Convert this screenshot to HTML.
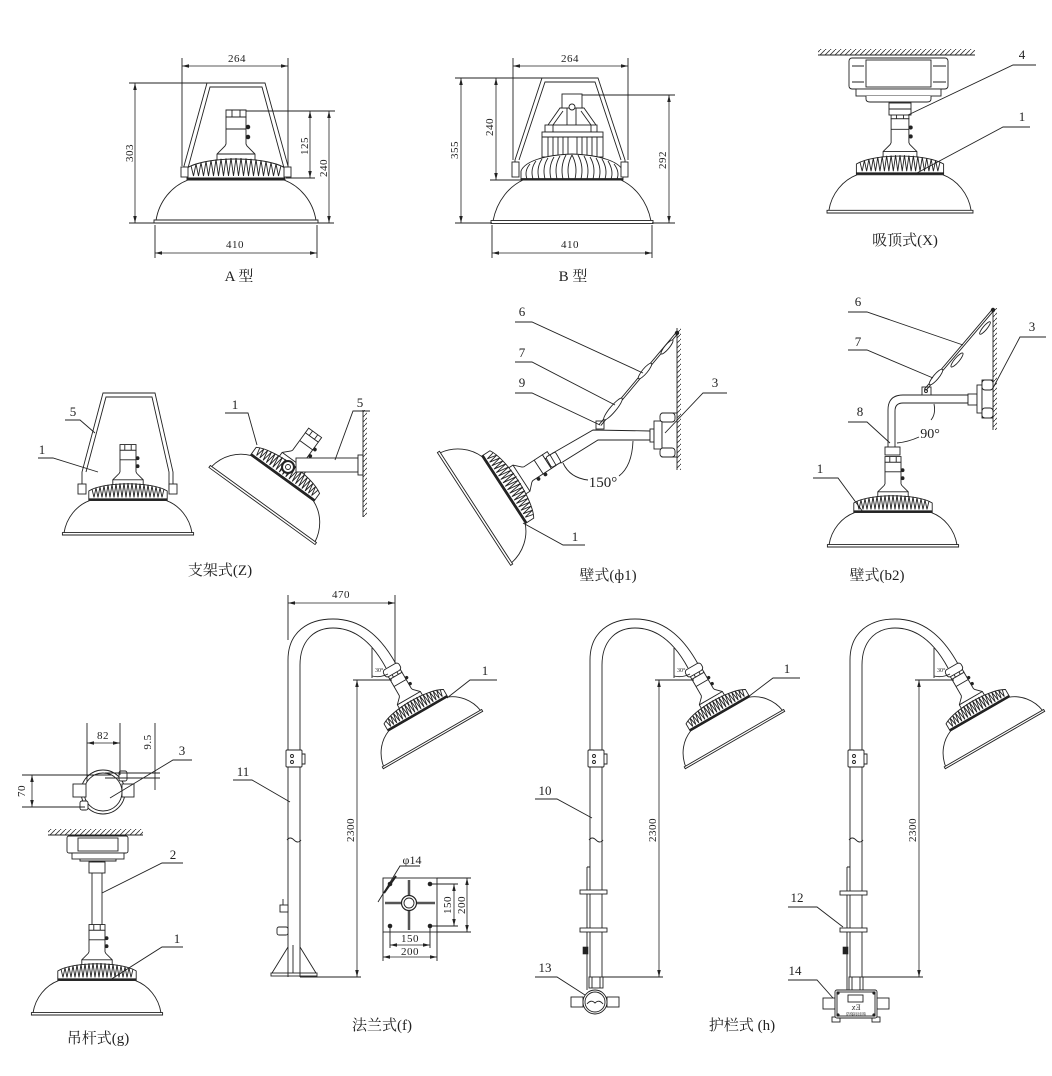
<!DOCTYPE html>
<html><head><meta charset="utf-8"><title>安装方式</title>
<style>
html,body{margin:0;padding:0;background:#fff;width:1052px;height:1076px;overflow:hidden}
svg{display:block}
.s{fill:none;stroke:#222;stroke-width:.9}
.w{fill:#fff;stroke:#222;stroke-width:.9}
.k{fill:#222;stroke:#222;stroke-width:.6}
#lamp *{vector-effect:non-scaling-stroke}
text{font-family:"Liberation Serif","Noto Serif CJK SC",serif;fill:#222}
.d{font-size:11px;letter-spacing:.5px}
.n{font-size:13px}
.c{font-size:15px}
.dm{fill:none;stroke:#222;stroke-width:.8;marker-start:url(#ar);marker-end:url(#ar)}
</style></head><body>
<svg width="1052" height="1076" viewBox="0 0 1052 1076" xmlns="http://www.w3.org/2000/svg">
<defs>
<marker id="ar" viewBox="0 0 10 10" refX="10" refY="5" markerWidth="7" markerHeight="7" orient="auto-start-reverse" markerUnits="userSpaceOnUse"><path d="M0 2.5 L10 5 L0 7.5 Z" fill="#222"/></marker>
<pattern id="hat" width="5" height="5" patternUnits="userSpaceOnUse"><path d="M-1 6 L6 -1" stroke="#333" stroke-width=".8"/></pattern>
<g id="lamp" stroke="#222" stroke-width=".9" fill="#fff">
 <path d="M-19 -62 L-19 -69 L-11 -77 L-10 -79 L-10 -106 L10 -106 L10 -79 L11 -77 L19 -69 L19 -62 Z"/>
 <line x1="-19" y1="-69" x2="19" y2="-69"/>
 <line x1="-10" y1="-94" x2="10" y2="-94"/>
 <rect x="-10" y="-113" width="20" height="7"/>
 <path d="M-4 -113 V-106 M4 -113 V-106" fill="none"/>
 <circle cx="12" cy="-96" r="1.8" fill="#222"/>
 <circle cx="12" cy="-86" r="1.8" fill="#222"/>
 <path d="M-80 -2.5 C-77 -22 -64 -37 -48 -43 L48 -43 C64 -37 77 -22 80 -2.5 Z"/>
 <rect x="-82" y="-3" width="164" height="3"/>
 <path d="M-49 -43 L-49 -55 C-30 -67 30 -67 49 -55 L49 -43 Z"/>
 <polyline fill="none" points="-45,-57.4 -42.5,-47 -40,-59 -37.5,-47 -35,-60.4 -32.5,-47 -30,-61.6 -27.5,-47 -25,-62.7 -22.5,-47 -20,-63.5 -17.5,-47 -15,-64.2 -12.5,-47 -10,-64.6 -7.5,-47 -5,-64.9 -2.5,-47 0,-65 2.5,-47 5,-64.9 7.5,-47 10,-64.6 12.5,-47 15,-64.2 17.5,-47 20,-63.5 22.5,-47 25,-62.7 27.5,-47 30,-61.6 32.5,-47 35,-60.4 37.5,-47 40,-59 42.5,-47 45,-57.4"/>
 <line x1="-49" y1="-44.5" x2="49" y2="-44.5" stroke-width="2"/>
</g>
<g id="goose">
 <path class="s" d="M288 977 L288 660 C288 632 308 619 333 619 C360 619 380 635 396 664"/>
 <path class="s" d="M300 977 L300 665 C300 641 314 628 333 628 C354 628 372 642 386 668"/>
 <rect class="w" x="286" y="750" width="16" height="17" rx="1"/>
 <circle class="s" cx="292" cy="756" r="1.5"/><circle class="s" cx="292" cy="762" r="1.5"/>
 <path class="s" d="M302 754 h3 v10 h-3"/>
 <path class="s" d="M287 840 q3 -4 7 0 t7 0"/>
 <use href="#lamp" transform="translate(433 740) rotate(-30) scale(0.7)"/>
 <g transform="translate(392 670) rotate(-30)"><rect class="w" x="-9" y="-4" width="18" height="8" rx="3"/></g>
 <path class="s" d="M372 648 L372 678 M372 676 Q380 678 388 674"/>
 <text x="375" y="672" font-size="6">30°</text>
 <line class="dm" x1="357" y1="680" x2="357" y2="977"/>
 <path class="s" d="M353 680 H392 M300 977 H361"/>
 <text class="d" transform="translate(350 830) rotate(-90)" text-anchor="middle" y="4">2300</text>
</g>
</defs>

<!-- ============ A 型 ============ -->
<use href="#lamp" transform="translate(236 223)"/>
<path class="s" d="M184 177 V166 L207 83 H265 L288 166 V177"/>
<path class="s" d="M188 168 L210 87 H262 L284 168"/>
<rect class="w" x="181" y="167" width="7" height="10"/>
<rect class="w" x="284" y="167" width="7" height="10"/>
<line class="dm" x1="182" y1="66" x2="288" y2="66"/>
<path class="s" d="M182 58 V166 M288 58 V166"/>
<text class="d" x="237" y="62" text-anchor="middle">264</text>
<line class="dm" x1="135" y1="83" x2="135" y2="223"/>
<path class="s" d="M129 83 H207 M129 223 H155"/>
<text class="d" transform="translate(129 153) rotate(-90)" text-anchor="middle" y="4">303</text>
<line class="dm" x1="310" y1="111" x2="310" y2="178"/>
<line class="dm" x1="329" y1="111" x2="329" y2="223"/>
<path class="s" d="M246 111 H335 M286 178 H315 M318 223 H334"/>
<text class="d" transform="translate(304 146) rotate(-90)" text-anchor="middle" y="4">125</text>
<text class="d" transform="translate(323 168) rotate(-90)" text-anchor="middle" y="4">240</text>
<line class="dm" x1="155" y1="253" x2="317" y2="253"/>
<path class="s" d="M155 225 V258 M317 225 V258"/>
<text class="d" x="235" y="248" text-anchor="middle">410</text>
<text class="c" x="239" y="281" text-anchor="middle">A 型</text>

<!-- ============ B 型 ============ -->
<path class="w" d="M493 221 C497 200 510 186 523 180 L621 180 C634 186 647 200 651 221 Z"/>
<rect class="w" x="491" y="220.5" width="162" height="3"/>
<rect class="w" x="567" y="100" width="9" height="32"/>
<path class="s" d="M548 125 L560 108 H584 L596 125 M553 125 L563 111 M591 125 L581 111"/>
<rect class="w" x="562" y="94" width="20" height="14"/>
<circle class="w" cx="572" cy="107" r="3"/>
<rect class="w" x="545" y="125" width="52" height="7"/>
<rect class="w" x="542" y="132" width="61" height="25"/>
<path class="s" d="M542 137 H603 M548 137 V157 M553 137 V157 M558 137 V157 M563 137 V157 M568 137 V157 M577 137 V157 M582 137 V157 M587 137 V157 M592 137 V157 M597 137 V157 M553 125 V132 M591 125 V132"/>
<path class="w" d="M521 180 L521 171 C525 161 545 155 572 154 C599 155 619 161 623 171 L623 180 Z"/>
<path class="s" d="M527 179 Q524 171 530 164 M533 179 Q530 169 536 161 M539 179 Q536 168 542 159 M545 179 Q542 167 548 158 M551 179 Q548 167 554 157 M557 179 Q554 166 560 156 M563 179 Q560 166 566 155 M569 179 Q566 166 572 155 M575 179 Q578 166 572 155 M581 179 Q584 166 578 155 M587 179 Q590 167 584 156 M593 179 Q596 167 590 157 M599 179 Q602 168 596 158 M605 179 Q608 169 602 159 M611 179 Q614 171 608 161 M617 179 Q620 172 614 164"/>
<line x1="521" y1="179" x2="623" y2="179" stroke="#222" stroke-width="1.8"/>
<path class="s" d="M515 172 V160 L542 78 H598 L625 160 V172"/>
<path class="s" d="M519 160 L545 82 H595 L621 160"/>
<rect class="w" x="512" y="162" width="7" height="15"/>
<rect class="w" x="621" y="162" width="7" height="15"/>
<line class="dm" x1="513" y1="66" x2="628" y2="66"/>
<path class="s" d="M513 58 V160 M628 58 V160"/>
<text class="d" x="570" y="62" text-anchor="middle">264</text>
<line class="dm" x1="461" y1="78" x2="461" y2="223"/>
<path class="s" d="M455 78 H542 M455 223 H492 M490 180 H522 M582 95 H675 M652 223 H675"/>
<text class="d" transform="translate(454 150) rotate(-90)" text-anchor="middle" y="4">355</text>
<line class="dm" x1="496" y1="78" x2="496" y2="180"/>
<text class="d" transform="translate(489 127) rotate(-90)" text-anchor="middle" y="4">240</text>
<line class="dm" x1="669" y1="95" x2="669" y2="223"/>
<text class="d" transform="translate(662 160) rotate(-90)" text-anchor="middle" y="4">292</text>
<line class="dm" x1="492" y1="253" x2="652" y2="253"/>
<path class="s" d="M492 225 V258 M652 225 V258"/>
<text class="d" x="570" y="248" text-anchor="middle">410</text>
<text class="c" x="573" y="281" text-anchor="middle">B 型</text>

<!-- ============ 吸顶式(X) ============ -->
<rect x="818" y="49" width="157" height="6" fill="url(#hat)"/>
<line class="s" x1="818" y1="55" x2="975" y2="55"/>
<rect class="w" x="849" y="58" width="99" height="31" rx="3"/>
<rect class="s" x="866" y="60" width="65" height="27"/>
<path class="s" d="M852 66 H864 M852 82 H864 M933 66 H946 M933 82 H946"/>
<rect class="w" x="856" y="89" width="85" height="7"/>
<path class="w" d="M866 96 L866 99 Q866 102 870 102 L927 102 Q931 102 931 99 L931 96"/>
<use href="#lamp" transform="translate(900 213) scale(0.89)"/>
<rect class="w" x="889" y="103" width="22" height="12"/>
<line class="s" x1="889" y1="109" x2="911" y2="109"/>
<path class="s" d="M908 115 L1013 65 H1036"/>
<text class="n" x="1022" y="59" text-anchor="middle">4</text>
<path class="s" d="M917 173 L1003 127 H1030"/>
<text class="n" x="1022" y="121" text-anchor="middle">1</text>
<text class="c" x="905" y="245" text-anchor="middle">吸顶式(X)</text>

<!-- ============ 支架式(Z) left ============ -->
<use href="#lamp" transform="translate(128 535) scale(0.8)"/>
<path class="s" d="M82 490 V472 L103 393 H155 L173 472 V490"/>
<path class="s" d="M86 472 L106 397 H152 L169 472 V490"/>
<rect class="w" x="78" y="484" width="8" height="10"/>
<rect class="w" x="169" y="484" width="8" height="10"/>
<path class="s" d="M65 420 H80 L95 433"/>
<text class="n" x="73" y="416" text-anchor="middle" font-size="11">5</text>
<path class="s" d="M38 458 H53 L98 472"/>
<text class="n" x="42" y="454" text-anchor="middle" font-size="11">1</text>

<!-- 支架式 right -->
<use href="#lamp" transform="translate(262 506) rotate(36) scale(0.8)"/>
<rect class="w" x="296" y="458" width="62" height="14"/>
<rect class="w" x="358" y="455" width="5" height="20"/>
<circle cx="288" cy="467" r="6" fill="#fff" stroke="#222" stroke-width="2"/>
<circle cx="288" cy="467" r="2.5" class="s"/>
<rect x="363" y="410" width="4" height="107" fill="url(#hat)"/>
<line class="s" x1="363" y1="410" x2="363" y2="517"/>
<path class="s" d="M370 411 H353 L335 460"/>
<text class="n" x="360" y="407" text-anchor="middle" font-size="11">5</text>
<path class="s" d="M225 413 H248 L257 445"/>
<text class="n" x="235" y="409" text-anchor="middle" font-size="11">1</text>
<text class="c" x="220" y="575" text-anchor="middle">支架式(Z)</text>

<!-- ============ 壁式(ф1) ============ -->
<rect x="677" y="328" width="4" height="142" fill="url(#hat)"/>
<line class="s" x1="677" y1="328" x2="677" y2="470"/>
<use href="#lamp" transform="translate(474 509) rotate(57) scale(0.82)"/>
<path class="w" d="M553 453 L593 430 L650 431 L650 440 L598 440 L561 463 Z"/>
<g transform="translate(553 460) rotate(-30)"><rect class="w" x="-5" y="-6" width="11" height="12" rx="2"/><line class="s" x1="0" y1="-6" x2="0" y2="6"/></g>
<rect class="w" x="596" y="421" width="8" height="8"/>
<rect class="w" x="650" y="429" width="4" height="13"/>
<rect class="w" x="654" y="421" width="8" height="28"/>
<rect class="w" x="662" y="413" width="15" height="44"/>
<rect class="w" x="660" y="413" width="15" height="9" rx="3"/>
<rect class="w" x="660" y="448" width="15" height="9" rx="3"/>
<path class="s" d="M600.8 425.6 L677.8 333.6 M599.2 424.4 L676.2 332.4"/>
<ellipse class="w" cx="613" cy="409" rx="14" ry="3" transform="rotate(-50 613 409)"/>
<ellipse class="w" cx="645" cy="371" rx="10" ry="2.5" transform="rotate(-50 645 371)"/>
<ellipse class="w" cx="667" cy="347" rx="9" ry="2.2" transform="rotate(-50 667 347)"/>
<circle cx="677" cy="333" r="2.2" fill="#222"/>
<path class="s" d="M515 322 H532 L643 373"/>
<text class="n" x="522" y="316" text-anchor="middle">6</text>
<path class="s" d="M515 362 H532 L615 405"/>
<text class="n" x="522" y="357" text-anchor="middle">7</text>
<path class="s" d="M515 393 H532 L600 425"/>
<text class="n" x="522" y="387" text-anchor="middle">9</text>
<path class="s" d="M727 393 H703 L665 433"/>
<text class="n" x="715" y="387" text-anchor="middle">3</text>
<path class="s" d="M563 463 Q570 478 588 480 M619 476 Q632 466 633 441"/>
<text x="603" y="487" text-anchor="middle" font-size="15">150°</text>
<path class="s" d="M585 545 H563 L523 523"/>
<text class="n" x="575" y="541" text-anchor="middle">1</text>
<text class="c" x="608" y="580" text-anchor="middle">壁式(ф1)</text>

<!-- ============ 壁式(b2) ============ -->
<rect x="993" y="308" width="4" height="122" fill="url(#hat)"/>
<line class="s" x1="993" y1="308" x2="993" y2="430"/>
<use href="#lamp" transform="translate(893 547) scale(0.8)"/>
<path class="w" d="M888 450 L888 410 Q888 395 903 395 L968 395 L968 403 L903 403 Q895 403 895 411 L895 450 Z"/>
<rect class="w" x="885" y="447" width="15" height="8"/>
<rect class="w" x="922" y="387" width="9" height="8"/>
<circle class="s" cx="926" cy="391" r="1.5"/>
<rect class="w" x="968" y="394" width="9" height="11"/>
<rect class="w" x="977" y="385" width="5" height="28"/>
<rect class="w" x="982" y="380" width="11" height="38"/>
<rect class="w" x="982" y="380" width="11" height="10" rx="3"/>
<rect class="w" x="982" y="408" width="11" height="10" rx="3"/>
<path class="s" d="M925.8 390.6 L993.8 310.6 M924.2 389.4 L992.2 309.4"/>
<ellipse class="w" cx="936" cy="377" rx="10" ry="2.6" transform="rotate(-50 936 377)"/>
<ellipse class="w" cx="957" cy="360" rx="9" ry="2.3" transform="rotate(-50 957 360)"/>
<ellipse class="w" cx="985" cy="328" rx="8" ry="2" transform="rotate(-50 985 328)"/>
<circle cx="993" cy="310" r="2.2" fill="#222"/>
<path class="s" d="M848 312 H867 L963 345"/>
<text class="n" x="858" y="306" text-anchor="middle">6</text>
<path class="s" d="M848 350 H867 L933 378"/>
<text class="n" x="858" y="346" text-anchor="middle">7</text>
<path class="s" d="M1046 337 H1020 L993 388"/>
<text class="n" x="1032" y="331" text-anchor="middle">3</text>
<path class="s" d="M848 422 H867 L890 443"/>
<text class="n" x="860" y="416" text-anchor="middle">8</text>
<path class="s" d="M934 404 Q936 414 931 420 M919 437 Q908 442 897 443"/>
<text x="930" y="438" text-anchor="middle" font-size="14">90°</text>
<path class="s" d="M813 478 H838 L863 512"/>
<text class="n" x="820" y="473" text-anchor="middle">1</text>
<text class="c" x="877" y="580" text-anchor="middle">壁式(b2)</text>

<!-- ============ 吊杆式(g) ============ -->
<circle class="s" cx="103" cy="792" r="22"/>
<circle class="s" cx="103" cy="792" r="19"/>
<rect class="w" x="73" y="784" width="13" height="13"/>
<rect class="w" x="122" y="784" width="12" height="13"/>
<rect class="w" x="119" y="771" width="8" height="10" rx="2"/>
<rect class="w" x="80" y="801" width="8" height="9" rx="2"/>
<line class="dm" x1="87" y1="743" x2="120" y2="743"/>
<path class="s" d="M87 723 V782 M120 723 V775"/>
<text class="d" x="103" y="739" text-anchor="middle" font-size="13">82</text>
<line class="s" x1="155" y1="723" x2="155" y2="790"/>
<path class="s" d="M105 773 H160 M105 778 H160"/>
<text class="d" transform="translate(147 742) rotate(-90)" text-anchor="middle" y="4" font-size="13">9.5</text>
<line class="dm" x1="32" y1="775" x2="32" y2="807"/>
<path class="s" d="M22 775 H112 M22 807 H85"/>
<text class="d" transform="translate(21 791) rotate(-90)" text-anchor="middle" y="4" font-size="13">70</text>
<path class="s" d="M192 760 H173 L110 798"/>
<text class="n" x="182" y="755" text-anchor="middle">3</text>
<rect x="48" y="829" width="95" height="6" fill="url(#hat)"/>
<line class="s" x1="48" y1="835" x2="143" y2="835"/>
<rect class="w" x="67" y="836" width="61" height="17" rx="2"/>
<rect class="s" x="78" y="838" width="40" height="13"/>
<rect class="w" x="72" y="853" width="52" height="6"/>
<path class="s" d="M80 859 V861 H116 V859"/>
<rect class="w" x="92" y="862" width="10" height="65"/>
<rect class="w" x="89" y="862" width="16" height="11"/>
<use href="#lamp" transform="translate(97 1015) scale(0.8)"/>
<path class="s" d="M183 863 H162 L102 893"/>
<text class="n" x="173" y="859" text-anchor="middle">2</text>
<path class="s" d="M183 947 H162 L110 980"/>
<text class="n" x="177" y="943" text-anchor="middle">1</text>
<text class="c" x="98" y="1043" text-anchor="middle">吊杆式(g)</text>

<!-- ============ 法兰式(f) ============ -->
<use href="#goose"/>
<line class="dm" x1="288" y1="603" x2="395" y2="603"/>
<path class="s" d="M288 595 V640 M395 595 V663"/>
<text class="d" x="341" y="598" text-anchor="middle">470</text>
<path class="s" d="M288 947 L272 973 M300 947 L316 973 M293 945 V973"/>
<rect class="s" x="271" y="973" width="46" height="3"/>
<rect class="w" x="280" y="905" width="8" height="7"/>
<line class="s" x1="283" y1="899" x2="283" y2="905"/>
<rect class="w" x="277" y="927" width="11" height="8" rx="2"/>
<path class="s" d="M233 780 H252 L290 802"/>
<text class="n" x="243" y="776" text-anchor="middle">11</text>
<path class="s" d="M497 680 H470 L447 698"/>
<text class="n" x="485" y="675" text-anchor="middle">1</text>
<!-- flange -->
<rect class="s" x="383" y="878" width="54" height="54"/>
<path d="M409 880 V930 M385 903 H435" stroke="#555" stroke-width="2.5" fill="none"/>
<circle cx="409" cy="903" r="7.5" fill="#fff" stroke="#222" stroke-width="1.2"/>
<circle class="s" cx="409" cy="903" r="5"/>
<circle class="k" cx="390" cy="884" r="2"/><circle class="k" cx="430" cy="884" r="2"/>
<circle class="k" cx="390" cy="926" r="2"/><circle class="k" cx="430" cy="926" r="2"/>
<path class="s" d="M420 866 H400 L378 902"/>
<line x1="384" y1="893" x2="396" y2="876" stroke="#222" stroke-width="2"/>
<text x="412" y="864" text-anchor="middle" font-size="12">φ14</text>
<line class="dm" x1="454" y1="884" x2="454" y2="926"/>
<line class="dm" x1="467" y1="878" x2="467" y2="932"/>
<path class="s" d="M430 884 H458 M430 926 H458 M437 878 H471 M437 932 H471"/>
<text class="d" transform="translate(447 905) rotate(-90)" text-anchor="middle" y="4">150</text>
<text class="d" transform="translate(461 905) rotate(-90)" text-anchor="middle" y="4">200</text>
<line class="dm" x1="390" y1="945" x2="430" y2="945"/>
<line class="dm" x1="383" y1="957" x2="437" y2="957"/>
<path class="s" d="M390 926 V948 M430 926 V948 M383 932 V961 M437 932 V961"/>
<text class="d" x="410" y="942" text-anchor="middle">150</text>
<text class="d" x="410" y="955" text-anchor="middle">200</text>
<text class="c" x="382" y="1030" text-anchor="middle">法兰式(f)</text>

<!-- ============ 护栏式 middle ============ -->
<use href="#goose" transform="translate(302 0)"/>
<path class="s" d="M800 678 H773 L748 697"/>
<text class="n" x="787" y="673" text-anchor="middle">1</text>
<path class="s" d="M587 867 V990 M587 867 H590"/>
<rect class="w" x="580" y="890" width="27" height="4"/>
<rect class="w" x="580" y="928" width="27" height="4"/>
<rect class="k" x="583" y="947" width="5" height="7"/>
<rect class="w" x="589" y="977" width="14" height="11"/>
<path class="s" d="M592 977 V988 M600 977 V988"/>
<rect class="w" x="571" y="997" width="12" height="10"/>
<rect class="w" x="607" y="997" width="12" height="10"/>
<circle class="w" cx="595" cy="1002" r="12"/>
<circle class="s" cx="595" cy="1002" r="10"/>
<path class="s" d="M587 1004 Q591 999 595 1003 Q599 999 603 1004"/>
<path class="s" d="M535 799 H557 L592 818"/>
<text class="n" x="545" y="795" text-anchor="middle">10</text>
<path class="s" d="M535 977 H557 L585 995"/>
<text class="n" x="545" y="972" text-anchor="middle">13</text>
<text class="c" x="742" y="1030" text-anchor="middle">护栏式 (h)</text>

<!-- ============ 护栏式 right ============ -->
<use href="#goose" transform="translate(562 0)"/>
<path class="s" d="M847 867 V990 M847 867 H850"/>
<rect class="w" x="840" y="891" width="27" height="4"/>
<rect class="w" x="840" y="928" width="27" height="4"/>
<rect class="k" x="843" y="947" width="5" height="7"/>
<rect class="w" x="849" y="977" width="14" height="13"/>
<path class="s" d="M852 977 V990 M860 977 V990"/>
<rect class="w" x="823" y="998" width="12" height="11"/>
<rect class="w" x="877" y="998" width="12" height="11"/>
<rect class="w" x="832" y="1017" width="8" height="5"/>
<rect class="w" x="872" y="1017" width="8" height="5"/>
<rect class="w" x="835" y="990" width="42" height="28" rx="2"/>
<rect class="s" x="837" y="992" width="38" height="24"/>
<rect class="s" x="848" y="995" width="15" height="7"/>
<circle class="k" cx="838" cy="993" r="1.3"/><circle class="k" cx="874" cy="993" r="1.3"/>
<circle class="k" cx="838" cy="1015" r="1.3"/><circle class="k" cx="874" cy="1015" r="1.3"/>
<text x="856" y="1010" font-size="8" text-anchor="middle" transform="matrix(-1 0 0 1 1712 0)">Ex</text>
<text x="856" y="1015.5" font-size="4" text-anchor="middle">防爆接线箱</text>
<path class="s" d="M788 907 H817 L843 927"/>
<text class="n" x="797" y="902" text-anchor="middle">12</text>
<path class="s" d="M788 980 H817 L833 998"/>
<text class="n" x="795" y="975" text-anchor="middle">14</text>
</svg>
</body></html>
